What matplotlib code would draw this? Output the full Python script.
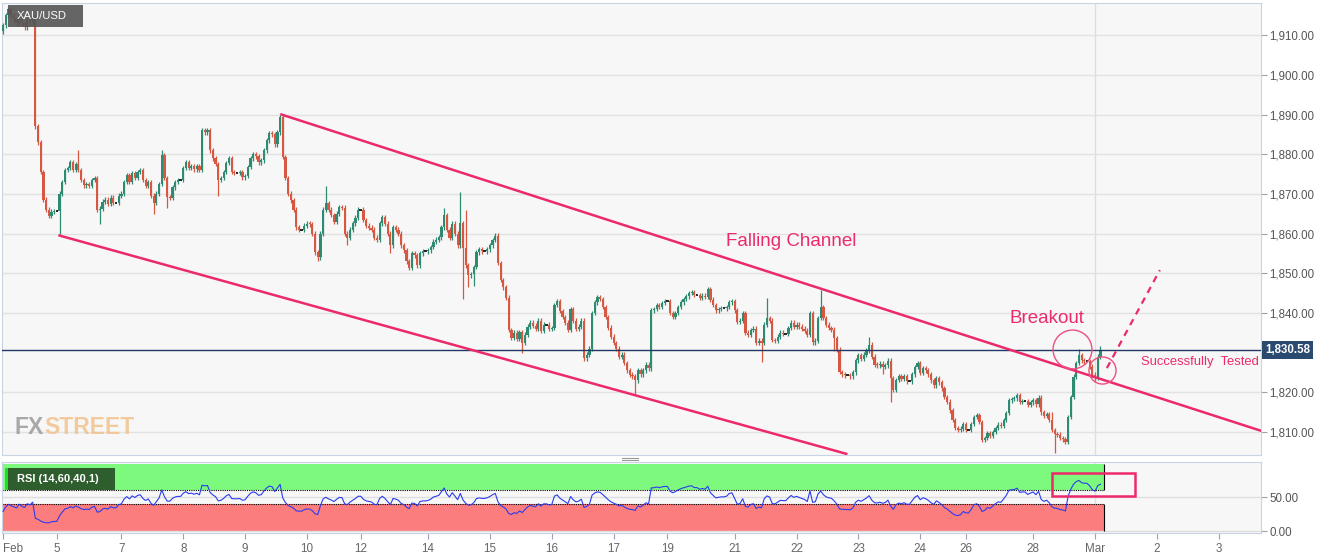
import numpy as np
import matplotlib
matplotlib.use('Agg')
import matplotlib.pyplot as plt
from matplotlib.patches import Rectangle
from matplotlib.lines import Line2D
import matplotlib.transforms as mtransforms

plt.rcParams['font.family'] = ['Liberation Sans', 'DejaVu Sans']

# hourly closes of XAU/USD, one row per trading session
close = np.array([
    # Feb 3
    1912.5, 1915, 1916.5, 1915, 1914, 1913, 1915, 1913, 1912, 1914, 1913, 1914.5, 1887, 1883, 1875.5,
    1868.5, 1866, 1864.5, 1865.5, 1865.7,
    # Feb 5/6
    1865.7, 1870, 1873, 1876, 1876.5, 1878, 1876, 1877.5, 1876, 1873.5, 1872.2, 1872.5, 1872, 1873.5,
    1874, 1866, 1866.3, 1868, 1868.5, 1867.5, 1869, 1867.7, 1867.7, 1869.5,
    # Feb 7
    1870, 1873, 1874.7, 1873, 1875.2, 1874, 1875.5, 1876, 1873.5, 1872, 1873, 1869.5, 1867.7, 1870,
    1872.5, 1879.8, 1874, 1869.2, 1869, 1871.7, 1873, 1873.5, 1873.5,
    # Feb 8
    1876.5, 1878, 1876.5, 1877, 1876.2, 1877, 1876, 1886, 1885.5, 1886, 1881, 1879, 1877.5, 1873.5,
    1874, 1875.5, 1877.8, 1879, 1875.5, 1875.3, 1875.3, 1875.5, 1874.2,
    # Feb 9
    1874.5, 1876.8, 1879, 1880, 1879.5, 1878, 1878.5, 1881, 1883.5, 1885.3, 1885, 1882.5, 1885.5,
    1889.3, 1879.3, 1874, 1870, 1868.4, 1866, 1861.6, 1861, 1861, 1862,
    # Feb 10
    1862.5, 1862.3, 1860, 1855.3, 1854, 1860, 1866, 1867.7, 1866, 1864.7, 1863, 1865, 1866.7, 1866.5,
    1860, 1859, 1861, 1862.6, 1864, 1866,
    # Feb 12/13
    1866, 1863.4, 1862, 1861.5, 1861, 1859, 1858.5, 1862.6, 1864.2, 1862.5, 1860, 1857, 1861.6, 1861,
    1860, 1857, 1855.8, 1853, 1851.3, 1855, 1854.5, 1852, 1855, 1855.5, 1855.5,
    # Feb 14
    1855.8, 1856.6, 1858, 1858.5, 1859.1, 1861.6, 1864.7, 1861, 1859, 1862.5, 1860, 1857, 1862.6,
    1856.3, 1852, 1849.5, 1849.8, 1851.6, 1855.3, 1856, 1855.5, 1855.5, 1856,
    # Feb 15
    1857, 1858.4, 1859.5, 1852.6, 1848.3, 1846.5, 1843.8, 1835.7, 1833.7, 1835, 1833.5, 1835.2,
    1832.5, 1834.5, 1836.5, 1837.5, 1836.8, 1836, 1838, 1835.5, 1837, 1837, 1836,
    # Feb 16
    1836.2, 1842, 1843, 1840.5, 1839, 1837.5, 1835.7, 1841, 1838, 1836, 1836.5, 1838, 1828.6, 1829.5,
    1831, 1840, 1842.7, 1844, 1843.5, 1841.5, 1839, 1836.3, 1834,
    # Feb 17
    1832.4, 1831, 1829, 1829.5, 1827.4, 1825.5, 1824.4, 1824, 1823, 1825.6, 1824.5, 1825.5, 1827,
    1826, 1840.7, 1841, 1842, 1841.5, 1842.5, 1843,
    # Feb 19/20
    1843, 1840, 1839, 1840, 1841.5, 1842.7, 1843.5, 1844.2, 1845, 1845.3, 1844.5, 1844.5, 1843.8,
    1844.3, 1844, 1846, 1843.3, 1842, 1840.7, 1841, 1841.2, 1841.2, 1841.5, 1842.7, 1843,
    # Feb 21
    1840.7, 1837.7, 1838, 1840, 1835, 1834.5, 1835.7, 1836, 1832.4, 1833, 1832.5, 1837, 1838.7, 1838,
    1833.2, 1833, 1834, 1835, 1834.8, 1834.8, 1836.2, 1837.5, 1836.5,
    # Feb 22
    1837, 1836.5, 1836, 1835.5, 1834.5, 1840, 1832.6, 1833, 1838.7, 1841.5, 1838.7, 1837, 1836.2,
    1835.8, 1833.7, 1830.7, 1825.1, 1824.5, 1824.3, 1824.3, 1824, 1825, 1828.1,
    # Feb 23
    1829.4, 1828.5, 1829.5, 1830.5, 1832, 1829, 1827, 1826.8, 1827.2, 1826.5, 1826.8, 1828, 1823.6,
    1820.6, 1823.1, 1824, 1823.4, 1824, 1822.8, 1822.8, 1824.5, 1826.4, 1827.4,
    # Feb 24
    1824.9, 1826, 1825.5, 1824.5, 1823, 1821.8, 1823.5, 1822.5, 1821, 1818.8, 1817.6, 1815.5, 1813,
    1811, 1810.5, 1810.8, 1812,
    # Feb 26/27
    1810.6, 1810.6, 1812, 1813.8, 1814.2, 1812.5, 1808, 1808.5, 1809.7, 1809, 1810, 1811, 1811.8,
    1811.5, 1813, 1814.8, 1818, 1818.3, 1818.5, 1819.3, 1817.6, 1817.8, 1817.8, 1816.8, 1817.5,
    # Feb 28
    1818, 1817, 1818.6, 1815, 1814, 1814.5, 1813, 1810.5, 1809.5, 1809.3, 1808.5, 1808.2, 1807.5,
    1813.8, 1818.8, 1823.9, 1827.4, 1829.4, 1828.1, 1827.8, 1827.8, 1826.5, 1824.4,
    # Mar 1
    1823.6, 1829, 1830.58,
])
first_open = 1911.0

# long wicks (candle number: price)
spike_hi = {28: 1881, 59: 1881, 103: 1890, 120: 1872, 164: 1866.5, 170: 1870.5, 172: 1866,
            284: 1843.7, 304: 1845.8, 322: 1834, 390: 1815, 400: 1831, 408: 1831.7}
spike_lo = {21: 1860, 36: 1862.5, 56: 1865, 61: 1866.5, 80: 1869.5, 117: 1853, 128: 1857,
            144: 1855, 171: 1843.5, 173: 1846.5, 175: 1846.8, 193: 1830, 235: 1819.2,
            282: 1827.6, 309: 1830.5, 327: 1824.5, 330: 1817.6, 391: 1804.7, 406: 1822.5}

session_labels = ['Feb', '5', '7', '8', '9', '10', '12', '14', '15', '16', '17', '19', '21', '22',
                  '23', '24', '26', '28', 'Mar', '2', '3']
session_len = [20, 24, 23, 23, 23, 20, 25, 23, 23, 23, 20, 25, 23, 23, 23, 17, 25, 23, 23, 23, 23]

price_ticks = [1810, 1820, 1840, 1850, 1860, 1870, 1880, 1890, 1900, 1910]
last_price = 1830.58
rsi_seed = (0.45, 1.4)   # average gain / loss going into Feb 3

# analyst drawings: (candle number, price)
upper_line = ([103.5, 467.7], [1890.0, 1810.3])
lower_line = ([21.0, 313.5], [1859.5, 1804.5])
projection = ([410.4, 430.1], [1826.1, 1850.8])

green = '#2e8a70'
red = '#d65842'
pink = '#ec2a6a'

n = len(close)
idx = np.arange(n)
opn = np.r_[first_open, close[:-1]]
top = np.maximum(opn, close)
bot = np.minimum(opn, close)
flat = np.isclose(opn, close)
wick = 0.6
high = np.where(flat, close, top + wick)
low = np.where(flat, close, bot - wick)
for k, v in spike_hi.items():
    high[k] = v
for k, v in spike_lo.items():
    low[k] = v
col = np.where(close > opn, green, red)
col = np.where(flat, 'black', col)

# RSI 14 (Wilder)
ag, al = rsi_seed
rsi = []
for d in np.diff(np.r_[first_open, close]):
    ag = (ag * 13 + max(d, 0)) / 14
    al = (al * 13 + max(-d, 0)) / 14
    rsi.append(100 - 100 / (1 + ag / al))
rsi = np.array(rsi)

ticks = np.r_[0, np.cumsum(session_len)[:-1]]

W, H = 1331, 558
fig = plt.figure(figsize=(W / 100, H / 100), dpi=100)
ax = fig.add_axes([2 / W, 1 - 455 / H, 1259 / W, 452 / H])
ax2 = fig.add_axes([2 / W, 1 - 533 / H, 1259 / W, 71 / H])

xl = (-0.4, 467.7)
frame = '#c9d3e6'
for a in (ax, ax2):
    a.set_facecolor('#f7f7f7')
    a.set_xlim(*xl)
    for s in a.spines.values():
        s.set_color(frame)
    a.yaxis.tick_right()
    a.tick_params(axis='y', length=4, color='#9aa3b5', labelcolor='#555555', labelsize=8.3, pad=2)
    a.axvline(ticks[session_labels.index('Mar')], color='#dedede', lw=1, zorder=0)

# price panel
ax.set_ylim(1804.2, 1918.1)
ax.set_yticks(price_ticks)
ax.set_yticklabels(['{:,.2f}'.format(v) for v in price_ticks])
ax.grid(axis='y', color='#e2e2e2', lw=1, zorder=0)
ax.tick_params(axis='x', bottom=False, labelbottom=False)

ax.vlines(idx, low, high, colors=col, lw=0.9, zorder=3)
ax.bar(idx[~flat], np.maximum(top - bot, 0.25)[~flat], bottom=bot[~flat], width=0.82,
       color=col[~flat], lw=0, zorder=4)
ax.hlines(close[flat], idx[flat] - 0.5, idx[flat] + 0.5, colors='black', lw=1.2, zorder=4)

ax.axhline(last_price, color='#1f3864', lw=1, zorder=5)
trans = mtransforms.blended_transform_factory(ax.transAxes, ax.transData)
ax.text(1.003, last_price, '{:,.2f}'.format(last_price), transform=trans, ha='left', va='center',
        color='white', fontsize=8.3, weight='bold', clip_on=False,
        bbox=dict(boxstyle='square,pad=0.25', fc='#2b4a6f', ec='none'))

ax.plot(*upper_line, color=pink, lw=1.8, zorder=6)
ax.plot(*lower_line, color=pink, lw=1.8, zorder=6)
ax.plot(*projection, color=pink, lw=1.6, ls=(0, (3, 2.5)), zorder=6)
ax.plot(397.4, 1830.9, 'o', ms=28, mfc='none', mec='#ee4f80', mew=1.0, zorder=7)
ax.plot(408.7, 1825.6, 'o', ms=19.5, mfc='none', mec='#ee4f80', mew=1.0, zorder=7)

ax.text(293, 1857.9, 'Falling Channel', color=pink, fontsize=13.5, ha='center', va='center')
ax.text(388, 1838.7, 'Breakout', color=pink, fontsize=13.5, ha='center', va='center')
ax.text(445.0, 1827.6, 'Successfully  Tested', color=pink, fontsize=9.4, ha='center',
        va='center')

# RSI panel
ax2.set_ylim(-2.9, 101.5)
ax2.set_yticks([0, 50])
ax2.set_yticklabels(['0.00', '50.00'])
ax2.grid(axis='y', color='#dedede', lw=1, zorder=0)
band_end = n + 0.3
ax2.fill_between([xl[0], band_end], 60, 98, color='#7dfa7d', lw=0, zorder=1)
ax2.fill_between([xl[0], band_end], 0, 40, color='#fb7d7d', lw=0, zorder=1)
ax2.hlines([40, 60], xl[0], band_end, colors='black', linestyles=(0, (1, 1)), lw=0.8, zorder=2)
ax2.vlines(band_end, 60, 98, colors='black', lw=0.8, zorder=2)
ax2.vlines(band_end, 0, 40, colors='black', lw=0.8, zorder=2)
ax2.plot(idx, rsi, color='#2a3cf0', lw=0.8, zorder=3)
ax2.add_patch(Rectangle((390, 51.5), 30.8, 33.8, fill=False, ec=pink, lw=1.8, zorder=5,
                        clip_on=False))
ax2.set_xticks(ticks)
ax2.set_xticklabels(session_labels)
ax2.tick_params(axis='x', length=4, color='#9aa3b5', labelcolor='#666666', labelsize=8.4, pad=3)
ax2.get_xticklabels()[0].set_ha('left')

# labels boxes and watermark
fig.add_artist(Rectangle((8 / W, 1 - 27 / H), 75 / W, 22 / H, transform=fig.transFigure,
                         fc='#555555', ec='none', alpha=0.9, zorder=10))
fig.text(17 / W, 1 - 16 / H, 'XAU/USD', color='white', fontsize=8.1, va='center', zorder=11)

fig.add_artist(Rectangle((5 / W, 1 - 490 / H), 110 / W, 22 / H, transform=fig.transFigure,
                         fc='#2e5e2e', ec='none', zorder=10))
fig.add_artist(Rectangle((5 / W, 1 - 490 / H), 3 / W, 22 / H, transform=fig.transFigure,
                         fc='#22dd22', ec='none', zorder=11))
fig.text(17 / W, 1 - 479 / H, 'RSI (14,60,40,1)', color='white', fontsize=8, weight='bold',
         va='center', zorder=11)

fig.text(14 / W, 1 - 434 / H, 'FX', color='#9a9a9a', fontsize=16.5, weight='bold', alpha=0.85,
         va='baseline')
fig.text(44 / W, 1 - 434 / H, 'STREET', color='#f2c28e', fontsize=16.5, weight='bold', alpha=0.85,
         va='baseline')

for yy in (457.5, 460):
    fig.add_artist(Line2D([622 / W, 638 / W], [1 - yy / H, 1 - yy / H], color='#999999', lw=0.8))

fig.savefig('out.png', dpi=100, facecolor='white')
